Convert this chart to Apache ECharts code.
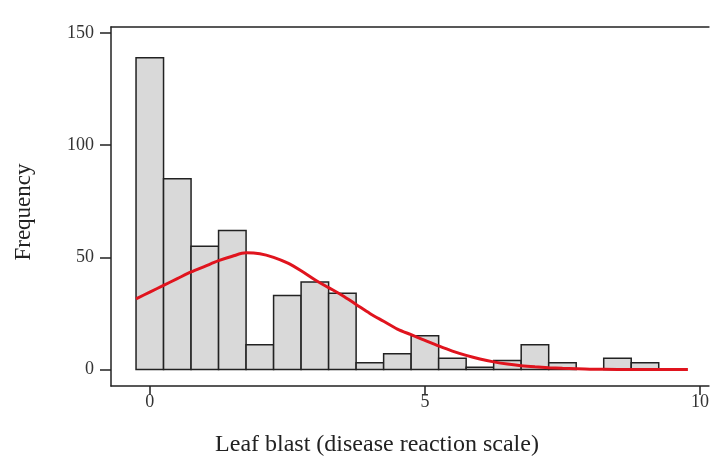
<!DOCTYPE html>
<html>
<head>
<meta charset="utf-8">
<script src="https://cdn.jsdelivr.net/npm/echarts@6/dist/echarts.min.js"></script>
<style>html,body{margin:0;padding:0;background:#fff;}#c{width:712px;height:457px;}</style>
</head>
<body>
<div id="c"></div>
<script>
// Histogram bins (bin centres, width 0.5) and frequencies
const binCenters = [0, 0.5, 1, 1.5, 2, 2.5, 3, 3.5, 4, 4.5, 5, 5.5, 6, 6.5, 7, 7.5, 8, 8.5, 9];
const counts     = [139, 85, 55, 62, 11, 33, 39, 34, 3, 7, 15, 5, 1, 4, 11, 3, 0, 5, 3];
const binWidth = 0.5;
// Fitted curve
const curveX = [-0.25, 0, 0.25, 0.5, 0.75, 1, 1.25, 1.5, 1.75, 2, 2.25, 2.5, 2.75, 3, 3.25, 3.5, 3.75, 4, 4.25, 4.5, 4.75, 5, 5.25, 5.5, 5.75, 6, 6.25, 6.5, 6.75, 7, 7.25, 7.5, 7.75, 8, 8.5, 9, 9.78];
const curveY = [31.5, 34.5, 37.5, 40.5, 43.5, 46, 48.5, 50.5, 52, 51.6, 50, 47.5, 44, 40, 36.5, 33, 29, 25, 21.5, 18, 15.5, 13, 10.5, 8.2, 6.3, 4.7, 3.4, 2.4, 1.7, 1.2, 0.8, 0.5, 0.3, 0.15, 0.05, 0, 0];
// Tick labels
const xTicks = [0, 5, 10];
const yTicks = [0, 50, 100, 150];
const xTitle = 'Leaf blast (disease reaction scale)';
const yTitle = 'Frequency';

const font = 'Liberation Serif';
const frameLine = { show: true, onZero: false, lineStyle: { color: '#222', width: 1.5 } };
const chart = echarts.init(document.getElementById('c'));
chart.setOption({
  animation: false,
  backgroundColor: '#fff',
  grid: { left: 111, top: 27, right: 0, bottom: 71, show: false },
  xAxis: [{
    type: 'value', min: -0.705, max: 10.163, position: 'bottom',
    axisLine: frameLine,
    splitLine: { show: false },
    axisTick: { show: true, length: 9, customValues: xTicks, lineStyle: { color: '#222', width: 1.5 } },
    axisLabel: { customValues: xTicks, margin: 7, fontFamily: font, fontSize: 18, color: '#333' }
  }, {
    type: 'value', min: -0.705, max: 10.163, position: 'top',
    axisLine: frameLine,
    splitLine: { show: false },
    axisTick: { show: false },
    axisLabel: { show: false }
  }],
  yAxis: {
    type: 'value', min: -7.36, max: 152.7,
    axisLine: frameLine,
    splitLine: { show: false },
    axisTick: { show: true, length: 11, customValues: yTicks, lineStyle: { color: '#222', width: 1.5 } },
    axisLabel: { customValues: yTicks, margin: 17, fontFamily: font, fontSize: 18, color: '#333', padding: [0, 0, 12, 0] }
  },
  series: [
    {
      type: 'custom',
      xAxisIndex: 0,
      data: binCenters.map((x, i) => [x, counts[i]]),
      renderItem: function (params, api) {
        const x = api.value(0), y = api.value(1);
        if (!(y > 0)) return null;
        const p0 = api.coord([x - binWidth / 2, y]);
        const p1 = api.coord([x + binWidth / 2, 0]);
        return {
          type: 'rect',
          shape: { x: p0[0], y: p0[1], width: p1[0] - p0[0], height: p1[1] - p0[1] },
          style: { fill: '#d9d9d9', stroke: '#222', lineWidth: 1.5 }
        };
      },
      z: 2
    },
    {
      type: 'line',
      xAxisIndex: 0,
      data: curveX.map((x, i) => [x, curveY[i]]),
      smooth: 0.3,
      showSymbol: false,
      lineStyle: { color: '#e0141e', width: 3 },
      z: 5
    }
  ],
  graphic: [
    { type: 'text', x: 377, y: 445, style: { text: xTitle, font: '24px "Liberation Serif"', fill: '#222', textAlign: 'center', textVerticalAlign: 'middle' } },
    { type: 'text', x: 24, y: 212, rotation: Math.PI / 2, style: { text: yTitle, font: '23px "Liberation Serif"', fill: '#222', textAlign: 'center', textVerticalAlign: 'middle' } }
  ]
});
</script>
</body>
</html>
